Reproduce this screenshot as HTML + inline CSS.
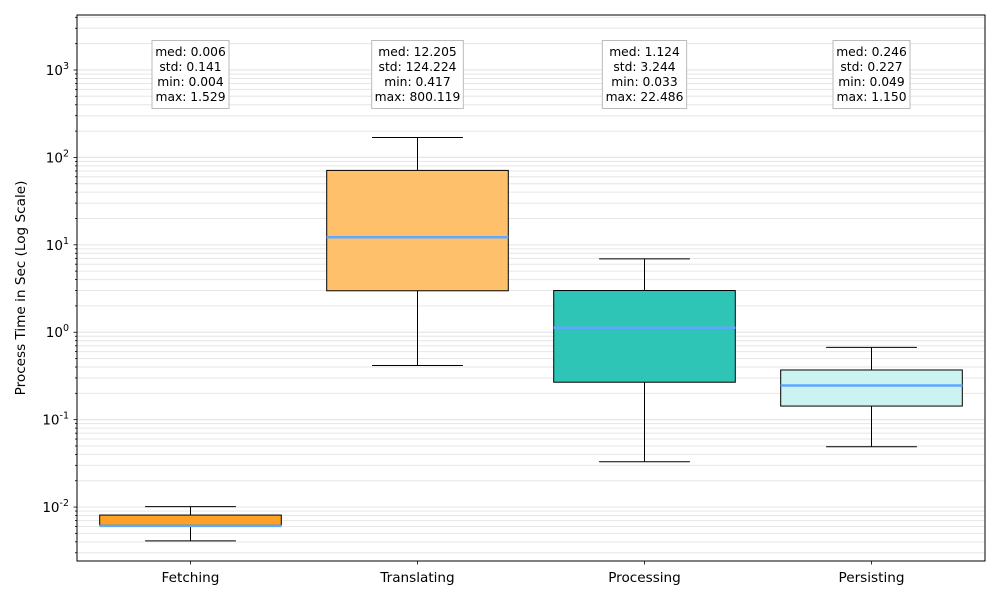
<!DOCTYPE html>
<html><head><meta charset="utf-8"><style>
body{margin:0;background:#fff;}
svg{display:block;font-family:"DejaVu Sans","Liberation Sans",sans-serif;}
</style></head><body>
<svg id="chart" width="1000" height="600" viewBox="0 0 1000 600" xmlns="http://www.w3.org/2000/svg">
<g id="grid"></g><g id="boxes"></g><g id="axes"></g><g id="notes"></g>
</svg>
<script>
const categories=["Fetching","Translating","Processing","Persisting"];
const whiskerLow=[0.0041,0.417,0.033,0.049];
const q1=[0.0062,2.98,0.268,0.143];
const medians=[0.0061,12.205,1.124,0.246];
const q3=[0.0081,71,3.0,0.37];
const whiskerHigh=[0.0101,169,6.9,0.67];
const colors=["#ffa124","#ffc06b","#2ec4b6","#cbf3f0"];
const noteMed=["0.006","12.205","1.124","0.246"];
const noteStd=["0.141","124.224","3.244","0.227"];
const noteMin=["0.004","0.417","0.033","0.049"];
const noteMax=["1.529","800.119","22.486","1.150"];
const yTicks=[-2,-1,0,1,2,3];

const L=77,R=985,T=15,B=561;
const logTop=3.629,logBot=-2.617;
const ns="http://www.w3.org/2000/svg";
function y(v){return T+(logTop-Math.log10(v))/(logTop-logBot)*(B-T);}
function x(i){return L+(R-L)/categories.length*(i+0.5);}
const bw=(R-L)/categories.length*0.8;
function mk(tag,attrs,parent,text){const e=document.createElementNS(ns,tag);for(const k in attrs)e.setAttribute(k,attrs[k]);if(text!==undefined)e.textContent=text;parent.appendChild(e);return e;}
const grid=document.getElementById('grid'),boxes=document.getElementById('boxes'),axes=document.getElementById('axes'),notes=document.getElementById('notes');
for(let d=-3;d<=3;d++){for(let m=1;m<=9;m++){const v=m*Math.pow(10,d);const yy=y(v);if(yy<T||yy>B)continue;
const g=mk('line',{x1:L,x2:R,y1:yy,y2:yy,stroke:'#e6e6e6','stroke-width':m===1?1.2:1},grid);

mk('line',{x1:L-(m===1?3.5:2),x2:L,y1:yy,y2:yy,stroke:'#000','stroke-width':0.8},axes);}}
yTicks.forEach(p=>{const yy=y(Math.pow(10,p));
const t=mk('text',{x:L-8,y:yy+5,'text-anchor':'end','font-size':13.5},axes);

mk('tspan',{},t,'10');mk('tspan',{dy:-6,'font-size':9.5},t,String(p));});
mk('rect',{x:L,y:T,width:R-L,height:B-T,fill:'none',stroke:'#000','stroke-width':1},axes);
const yl=mk('text',{x:25,y:(T+B)/2,transform:`rotate(-90 25 ${(T+B)/2})`,'text-anchor':'middle','font-size':13.6},axes,'Process Time in Sec (Log Scale)');

categories.forEach((c,i)=>{const cx=x(i);
const g=mk('g',{},boxes);
mk('line',{x1:cx,x2:cx,y1:y(whiskerHigh[i]),y2:y(q3[i]),stroke:'#000'},g);
mk('line',{x1:cx,x2:cx,y1:y(q1[i]),y2:y(whiskerLow[i]),stroke:'#000'},g);
mk('line',{x1:cx-bw/4,x2:cx+bw/4,y1:y(whiskerHigh[i]),y2:y(whiskerHigh[i]),stroke:'#000'},g);
mk('line',{x1:cx-bw/4,x2:cx+bw/4,y1:y(whiskerLow[i]),y2:y(whiskerLow[i]),stroke:'#000'},g);
mk('rect',{x:cx-bw/2,y:y(q3[i]),width:bw,height:y(q1[i])-y(q3[i]),fill:colors[i],stroke:'#000'},g);
mk('line',{x1:cx-bw/2,x2:cx+bw/2,y1:y(medians[i]),y2:y(medians[i]),stroke:'#5fa8ff','stroke-width':2.5},g);
mk('line',{x1:cx,x2:cx,y1:B,y2:B+3.5,stroke:'#000','stroke-width':0.8},axes);
const xl=mk('text',{x:cx,y:B+21,'text-anchor':'middle','font-size':13.6},axes,c);

const ng=mk('g',{},notes);
const lines=['med: '+noteMed[i],'std: '+noteStd[i],'min: '+noteMin[i],'max: '+noteMax[i]];
const w=Math.max(...lines.map(s=>s.length))*7.3+4;
mk('rect',{x:cx-w/2,y:40.5,width:w,height:68,fill:'#fff',stroke:'#bbb'},ng);
lines.forEach((s,k)=>mk('text',{x:cx,y:56+k*15,'text-anchor':'middle','font-size':12.3},ng,s));
});
</script>
</body></html>
